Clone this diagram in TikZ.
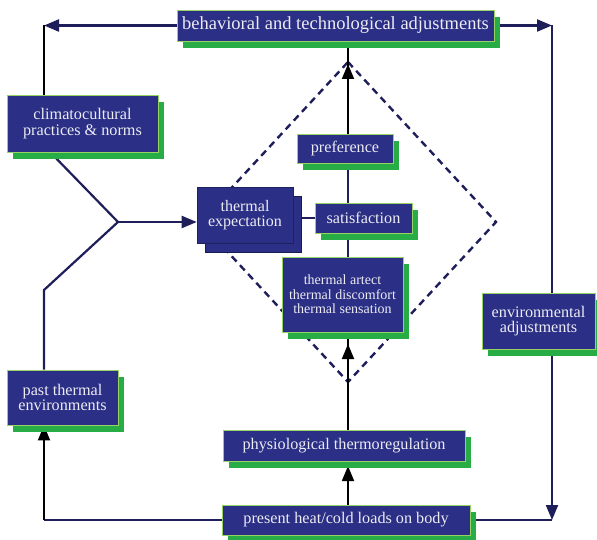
\documentclass[tikz,border=0pt]{standalone}
\usepackage{fontspec}
\setmainfont{Liberation Serif}
\usetikzlibrary{shadows,arrows.meta}
\pgfdeclarelayer{bg}
\pgfsetlayers{bg,main}
\definecolor{boxblue}{RGB}{43,47,134}
\definecolor{shgreen}{RGB}{40,172,70}
\definecolor{rimgreen}{RGB}{150,210,100}
\definecolor{navyline}{RGB}{30,30,90}
\definecolor{txt}{RGB}{236,236,242}
\tikzset{
  bluebox/.style={draw=rimgreen, line width=0.8bp, fill=boxblue, text=txt,
    inner sep=0pt, align=center, font=\fontsize{16.2bp}{15.5bp}\selectfont,
    drop shadow={shadow xshift=6bp, shadow yshift=-7bp, fill=shgreen, opacity=1, draw=none}},
  blueshadowbox/.style={draw=boxblue!70!black, line width=0.6bp, fill=boxblue, text=txt,
    inner sep=0pt, align=center, font=\fontsize{16bp}{15.5bp}\selectfont,
    drop shadow={shadow xshift=8bp, shadow yshift=-9bp, fill=boxblue, opacity=1, draw=boxblue!60!black}},
  navyconn/.style={draw=navyline, line width=2.2bp},
  blackconn/.style={draw=black, line width=1.8bp},
  tip/.style={-{Triangle[length=15bp,width=12bp]}},
  diamondline/.style={draw=navyline, line width=2.4bp, dash pattern=on 7bp off 5bp},
}
\begin{document}
\begin{tikzpicture}[x=1bp,y=-1bp]
\useasboundingbox (0,0) rectangle (597,540);
% boxes
\node[bluebox, minimum width=317bp, minimum height=31bp, font=\fontsize{18.5bp}{18bp}\selectfont] (behav) at (335.5,25.5) {behavioral and technological adjustments};
\node[bluebox, minimum width=151bp, minimum height=57bp] (clim) at (82.5,123.5) {climatocultural\\practices \& norms};
\node[blueshadowbox, minimum width=96bp, minimum height=56bp] (texp) at (245,215) {thermal\\expectation};
\node[bluebox, minimum width=96bp, minimum height=29bp] (pref) at (345,148.5) {preference};
\node[bluebox, minimum width=97bp, minimum height=30bp] (sat) at (363.5,218) {satisfaction};
\node[bluebox, minimum width=121bp, minimum height=75bp, font=\fontsize{14bp}{14.5bp}\selectfont] (aff) at (342.5,294.5) {thermal artect\\thermal discomfort\\thermal sensation};
\node[bluebox, minimum width=111bp, minimum height=55bp] (past) at (62.5,397.5) {past thermal\\environments};
\node[bluebox, minimum width=113bp, minimum height=56bp] (env) at (538.5,321) {environmental\\adjustments};
\node[bluebox, minimum width=242bp, minimum height=31bp] (phys) at (344,445.5) {physiological thermoregulation};
\node[bluebox, minimum width=248bp, minimum height=30bp] (present) at (346,520) {present heat/cold loads on body};
% helper coordinates
\coordinate (tl) at (44,25.5);
\coordinate (tr) at (552,25.5);
\coordinate (br) at (552,520);
\coordinate (bl) at (44,520);
\coordinate (ml) at (44,290);
\coordinate (junc) at (118,222);
\coordinate (climout) at (50,152);
\coordinate (cx) at (348,0);
\coordinate (dtop) at (348,62);
\coordinate (dright) at (496,222);
\coordinate (dbot) at (348,382);
\coordinate (dleft) at (200,222);
\coordinate (tipA) at (348,64);
\coordinate (tipB) at (348,344);
\coordinate (tipC) at (348,466);
\begin{pgfonlayer}{bg}
\draw[diamondline] (dtop) -- (dright) -- (dbot) -- (dleft) -- cycle;
% outer loop
\draw[navyconn, tip] (behav.west) -- (tl);
\draw[blackconn] (tl) -- (tl |- clim.north);
\draw[navyconn, tip] (behav.east) -- (tr);
\draw[navyconn] (tr) -- (tr |- env.north);
\draw[navyconn, tip] (tr |- env.south) -- (br);
\draw[navyconn] (br) -- (present.east);
\draw[navyconn] (present.west) -- (bl);
\draw[blackconn, tip] (bl) -- (bl |- past.south);
% left junction
\draw[navyconn] (bl |- past.north) -- (ml) -- (junc);
\draw[navyconn] (climout) -- (junc);
\draw[navyconn, tip] (junc) -- (texp.west |- junc);
\draw[navyconn] (sat.west -| texp.east) -- (sat.west);
% central column
\draw[blackconn] (pref.north -| cx) -- (behav.south -| cx);
\draw[blackconn, tip] (pref.north -| cx) -- (tipA);
\draw[navyconn] (pref.south -| cx) -- (sat.north -| cx);
\draw[navyconn] (sat.south -| cx) -- (aff.north -| cx);
\draw[blackconn] (phys.north -| cx) -- (aff.south -| cx);
\draw[blackconn, tip] (phys.north -| cx) -- (tipB);
\draw[blackconn, tip] (present.north -| cx) -- (tipC);
\end{pgfonlayer}
\end{tikzpicture}
\end{document}
